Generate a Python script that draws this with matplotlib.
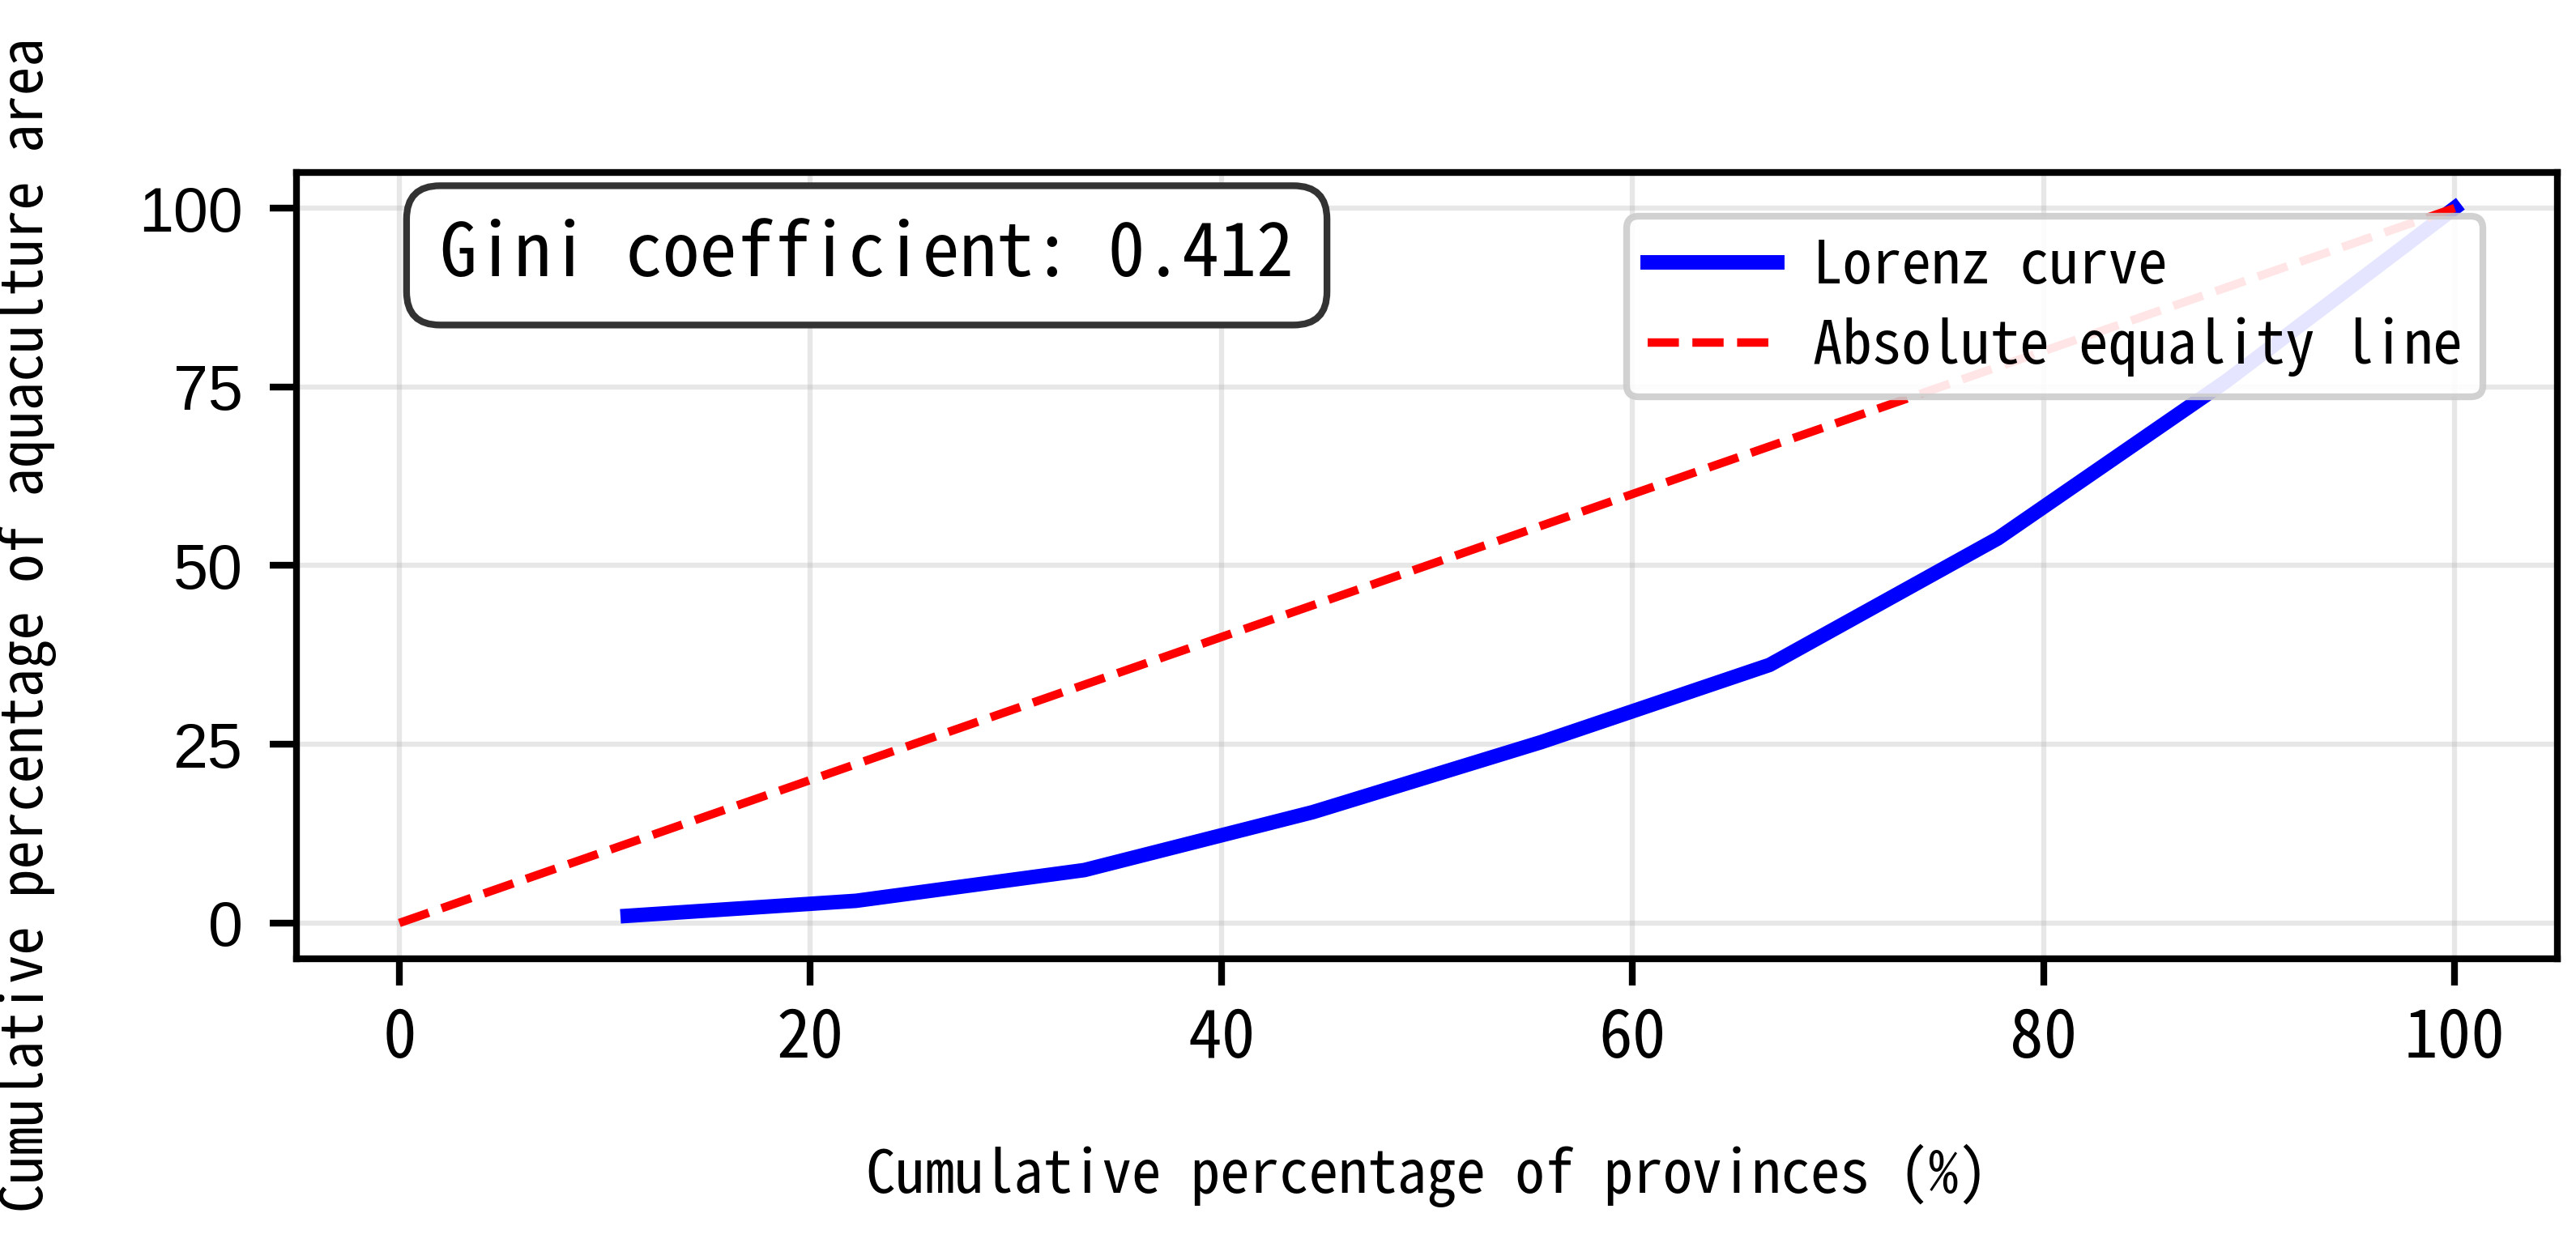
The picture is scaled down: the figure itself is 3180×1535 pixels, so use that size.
import matplotlib.pyplot as plt

# 累计省份比例 (%) 与 累计养殖面积比例 (%)
province_pct = [11.11, 22.22, 33.33, 44.44, 55.56, 66.67, 77.78, 88.89, 100.0]
area_pct = [1.0, 3.1, 7.4, 15.5, 25.3, 36.1, 53.8, 75.8, 100.0]
equality_x = [0, 100]
equality_y = [0, 100]
gini = 0.412

x_ticks = [0, 20, 40, 60, 80, 100]
y_ticks = [0, 25, 50, 75, 100]

MONO = ['Noto Sans Mono CJK SC', 'Liberation Mono', 'DejaVu Sans Mono']
SANS = ['Liberation Sans', 'DejaVu Sans']

plt.rcParams['font.family'] = MONO
plt.rcParams['axes.unicode_minus'] = False

fig = plt.figure(figsize=(10.603, 5.117), dpi=300)
ax = fig.add_axes([0.1151, 0.2287, 0.8774, 0.6326])

ax.plot(province_pct, area_pct, color='blue', lw=4.3, label='Lorenz curve')
ax.plot(equality_x, equality_y, color='red', ls='--', lw=2.5,
        label='Absolute equality line')

ax.set_xlim(-5, 105)
ax.set_ylim(-5, 105)
ax.set_xticks(x_ticks, labels=[str(v) for v in x_ticks], fontsize=20)
ax.set_yticks(y_ticks, labels=[str(v) for v in y_ticks], fontsize=18.5,
              fontfamily=SANS)
ax.tick_params(length=8, width=2)
ax.tick_params(axis='y', pad=8)
ax.tick_params(axis='x', pad=6)
for sp in ax.spines.values():
    sp.set_linewidth(2)

ax.grid(True, color='#b0b0b0', alpha=0.3, lw=1.5)

ax.set_xlabel('Cumulative percentage of provinces (%)', fontsize=17.5)
ax.set_ylabel('Cumulative percentage of aquaculture area', fontsize=17)
ax.xaxis.set_label_coords(0.5, -0.235)
ax.yaxis.set_label_coords(-0.106, 0.425)

leg = ax.legend(loc='upper right', bbox_to_anchor=(0.967, 0.944),
                borderaxespad=0, fontsize=17.5, framealpha=0.9,
                handlelength=2.2, handletextpad=0.6, labelspacing=0.35,
                borderpad=0.35, fancybox=True)
leg.get_frame().set_edgecolor('#cccccc')
leg.get_frame().set_linewidth(2)

ax.text(0.2522, 0.8944, f'Gini coefficient: {gini}', transform=ax.transAxes,
        ha='center', va='center', fontsize=22,
        bbox=dict(boxstyle='round,pad=0.45', facecolor='white',
                  edgecolor='#333333', linewidth=2))

fig.savefig('out.png', dpi=300)
